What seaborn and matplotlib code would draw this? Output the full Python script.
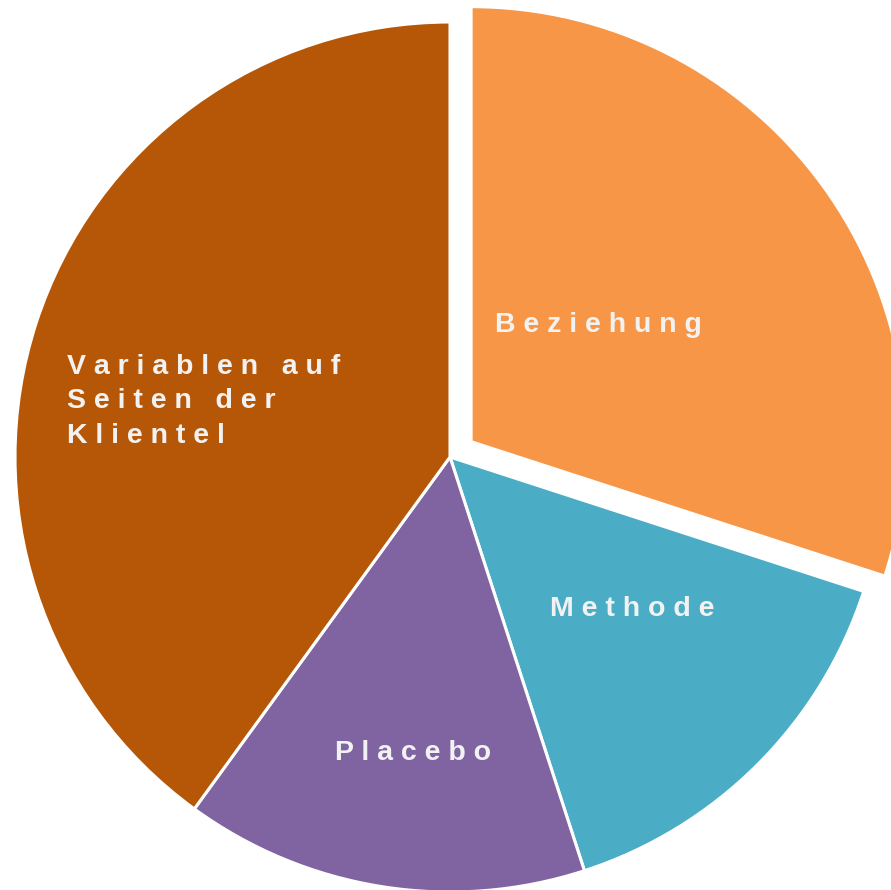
import seaborn as sns
import matplotlib.pyplot as plt

# === Data ===
labels = ["Beziehung", "Methode", "Placebo", "Variablen auf\nSeiten der\nKlientel"]
shares = [30, 15, 15, 40]
colors = ["#F79646", "#4BACC6", "#8064A2", "#B65708"]
explode = [0.06, 0, 0, 0]

# label anchor points in pie units (radius 1), plus alignment
label_pos = [(0.103, 0.303, "left"), (0.42, -0.35, "center"),
             (-0.085, -0.68, "center"), (-0.88, 0.128, "left")]


def spaced(text):
    # fake letter spacing: one space between every character
    return "\n".join(" ".join(line) for line in text.split("\n"))


sns.set_theme(style="white")
plt.rcParams["font.family"] = ["Liberation Sans", "DejaVu Sans"]

fig = plt.figure(figsize=(8.91, 8.90), dpi=100)
ax = fig.add_axes([0, 0, 1, 1])

ax.pie(
    shares,
    colors=colors,
    explode=explode,
    startangle=90,
    counterclock=False,
    radius=1,
    wedgeprops=dict(edgecolor="white", linewidth=2.2),
)

for lab, (x, y, ha) in zip(labels, label_pos):
    ax.text(x, y, spaced(lab), ha=ha, va="center", color="#F2F2F2",
            fontsize=20.5, fontweight="bold", linespacing=1.42)

ax.set_xlim(-1.0345, 1.0138)
ax.set_ylim(-0.9954, 1.0506)
ax.set_aspect("auto")
ax.axis("off")

fig.savefig("out.png", dpi=100, facecolor="white")
